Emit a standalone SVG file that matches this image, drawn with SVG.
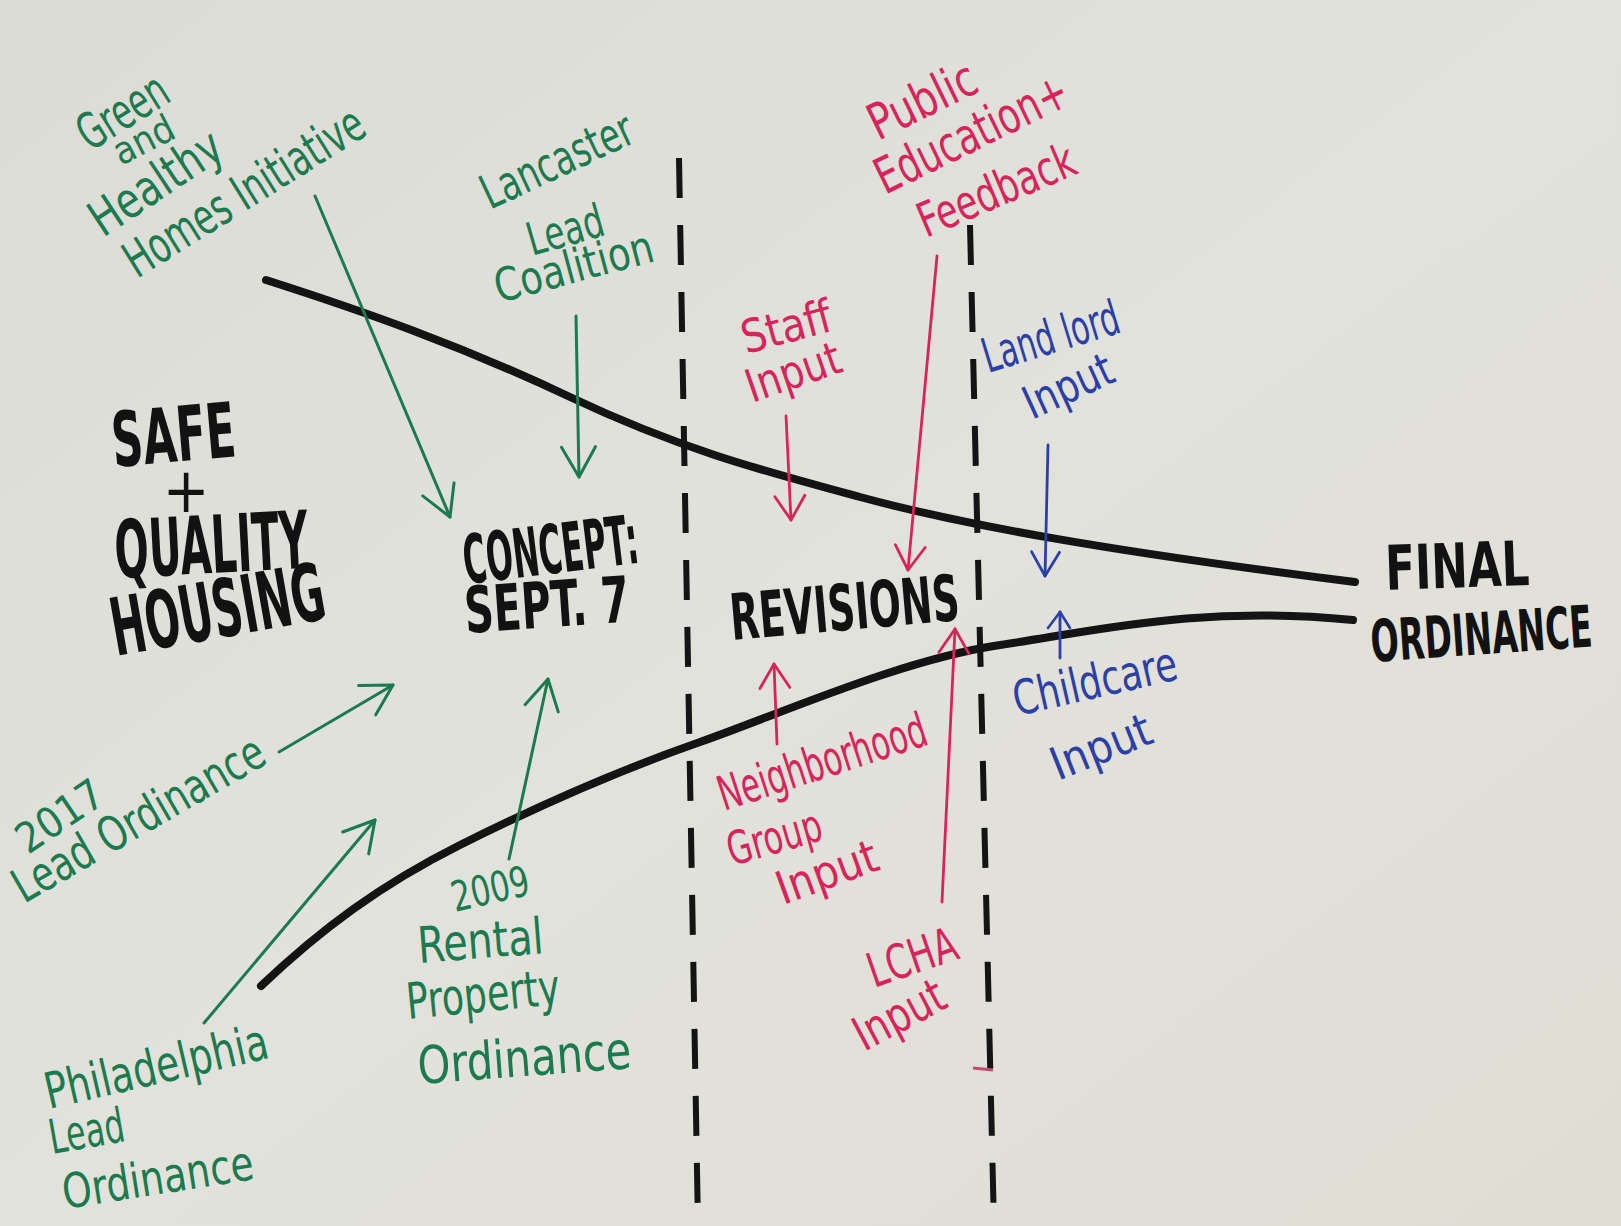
<svg xmlns="http://www.w3.org/2000/svg" width="1621" height="1226" viewBox="0 0 1621 1226">
<style>
.hand{font-family:"Liberation Sans Narrow","DejaVu Sans Condensed","Liberation Sans",sans-serif;font-weight:normal}
.g{fill:#1b7a4e}
.r{fill:#d8245a}
.b{fill:#2b3fa6}
.cap{font-family:"Liberation Sans Narrow","DejaVu Sans Condensed","Liberation Sans",sans-serif;font-weight:bold;fill:#121212}
.curve{fill:none;stroke:#141414;stroke-width:8;stroke-linecap:round}
.dash{fill:none;stroke:#141414;stroke-width:6;stroke-dasharray:40 27}
.ag{fill:none;stroke:#1b7a4e;stroke-width:3;stroke-linecap:round}
.ar{fill:none;stroke:#d8245a;stroke-width:2.8;stroke-linecap:round}
.ab{fill:none;stroke:#2b3fa6;stroke-width:2.8;stroke-linecap:round}
</style>
<defs>
<linearGradient id="paper" x1="0" y1="0" x2="1" y2="1">
<stop offset="0" stop-color="#dcdcd7"/>
<stop offset="0.5" stop-color="#e2e2dc"/>
<stop offset="1" stop-color="#dfded5"/>
</linearGradient>
<marker id="hg" markerUnits="userSpaceOnUse" viewBox="-36 -22 40 44" refX="0" refY="0" markerWidth="40" markerHeight="44" orient="auto" overflow="visible">
<path d="M-30,-17 L0,0 L-30,17" fill="none" stroke="#1b7a4e" stroke-width="3" stroke-linecap="round" stroke-linejoin="round"/>
</marker>
<marker id="hr" markerUnits="userSpaceOnUse" viewBox="-30 -20 34 40" refX="0" refY="0" markerWidth="34" markerHeight="40" orient="auto" overflow="visible">
<path d="M-24,-15 L0,0 L-24,15" fill="none" stroke="#d8245a" stroke-width="2.8" stroke-linecap="round" stroke-linejoin="round"/>
</marker>
<marker id="hb" markerUnits="userSpaceOnUse" viewBox="-30 -20 34 40" refX="0" refY="0" markerWidth="34" markerHeight="40" orient="auto" overflow="visible">
<path d="M-24,-14 L0,0 L-24,14" fill="none" stroke="#2b3fa6" stroke-width="2.8" stroke-linecap="round" stroke-linejoin="round"/>
</marker>
<marker id="hbs" markerUnits="userSpaceOnUse" viewBox="-20 -14 24 28" refX="0" refY="0" markerWidth="24" markerHeight="28" orient="auto" overflow="visible">
<path d="M-16,-12 L0,0 L-16,10" fill="none" stroke="#2b3fa6" stroke-width="2.6" stroke-linecap="round" stroke-linejoin="round"/>
</marker>
</defs>
<rect x="0" y="0" width="1621" height="1226" fill="url(#paper)"/>

<g id="frame">
<path class="curve" d="M266,280 C360,310 460,345 570,397 S760,470 860,497 S1100,550 1355,582"/>
<path class="curve" d="M261,986 C320,930 380,885 460,845 S620,770 700,742 S900,660 1000,645 S1200,605 1353,620"/>
<path class="dash" d="M679,158 L698,1226"/>
<path class="dash" d="M970,225 L994,1226"/>
<path d="M973,1068 L993,1070" stroke="#c04a70" stroke-width="3" fill="none"/>
</g>

<g id="connectors">
<path class="ag" d="M315,196 L450,517" marker-end="url(#hg)"/>
<path class="ag" d="M576,316 L579,477" marker-end="url(#hg)"/>
<path class="ag" d="M279,752 Q330,722 393,685" marker-end="url(#hg)"/>
<path class="ag" d="M204,1023 L375,820" marker-end="url(#hg)"/>
<path class="ag" d="M509,859 L548,679" marker-end="url(#hg)"/>
<path class="ar" d="M786,416 L791,520" marker-end="url(#hr)"/>
<path class="ar" d="M937,256 L908,570" marker-end="url(#hr)"/>
<path class="ar" d="M777,744 L774,664" marker-end="url(#hr)"/>
<path class="ar" d="M942,902 L955,629" marker-end="url(#hr)"/>
<path class="ab" d="M1048,445 L1045,576" marker-end="url(#hb)"/>
<path class="ab" d="M1060,658 L1060,612" marker-end="url(#hbs)"/>
</g>

<g id="safe-quality-housing" class="cap">
<text transform="translate(114,467) rotate(-5)" font-size="76" textLength="124" lengthAdjust="spacingAndGlyphs">SAFE</text>
<text x="186" y="512" font-size="62" text-anchor="middle" font-weight="normal">+</text>
<text transform="translate(116,578) rotate(-3)" font-size="80" textLength="194" lengthAdjust="spacingAndGlyphs">QUALITY</text>
<text transform="translate(116,656) rotate(-10)" font-size="80" textLength="216" lengthAdjust="spacingAndGlyphs">HOUSING</text>
</g>

<g id="concept" class="cap">
<text transform="translate(466,584) rotate(-7)" font-size="68" textLength="176" lengthAdjust="spacingAndGlyphs">CONCEPT:</text>
<text transform="translate(466,633) rotate(-4)" font-size="64" textLength="165" lengthAdjust="spacingAndGlyphs">SEPT. 7</text>
</g>

<g id="revisions" class="cap">
<text transform="translate(732,640) rotate(-5)" font-size="64" textLength="230" lengthAdjust="spacingAndGlyphs">REVISIONS</text>
</g>

<g id="final-ordinance" class="cap">
<text transform="translate(1386,590) rotate(-2)" font-size="62" textLength="144" lengthAdjust="spacingAndGlyphs">FINAL</text>
<text transform="translate(1372,662) rotate(-4) scale(1,1.45)" font-size="40" textLength="222" lengthAdjust="spacingAndGlyphs">ORDINANCE</text>
</g>

<g id="green-healthy-homes" class="hand g">
<text transform="translate(90,152) rotate(-32)" font-size="50" textLength="98" lengthAdjust="spacingAndGlyphs">Green</text>
<text transform="translate(121,166) rotate(-27)" font-size="38" textLength="64" lengthAdjust="spacingAndGlyphs">and</text>
<text transform="translate(103,238) rotate(-33.5)" font-size="50" textLength="149" lengthAdjust="spacingAndGlyphs">Healthy</text>
<text transform="translate(137,279) rotate(-32)" font-size="50" textLength="274" lengthAdjust="spacingAndGlyphs">Homes Initiative</text>
</g>

<g id="lancaster-lead-coalition" class="hand g">
<text transform="translate(490,210) rotate(-25)" font-size="48" textLength="163" lengthAdjust="spacingAndGlyphs">Lancaster</text>
<text transform="translate(532,256) rotate(-16)" font-size="46" textLength="78" lengthAdjust="spacingAndGlyphs">Lead</text>
<text transform="translate(499,303) rotate(-15)" font-size="46" textLength="163" lengthAdjust="spacingAndGlyphs">Coalition</text>
</g>

<g id="lead-ordinance-2017" class="hand g">
<text transform="translate(28,855) rotate(-34)" font-size="42" textLength="96" lengthAdjust="spacingAndGlyphs">2017</text>
<text transform="translate(24,904) rotate(-30)" font-size="48" textLength="283" lengthAdjust="spacingAndGlyphs">Lead Ordinance</text>
</g>

<g id="philadelphia-lead-ordinance" class="hand g">
<text transform="translate(49,1109) rotate(-13)" font-size="50" textLength="228" lengthAdjust="spacingAndGlyphs">Philadelphia</text>
<text transform="translate(52,1154) rotate(-10)" font-size="48" textLength="76" lengthAdjust="spacingAndGlyphs">Lead</text>
<text transform="translate(65,1209) rotate(-9)" font-size="48" textLength="193" lengthAdjust="spacingAndGlyphs">Ordinance</text>
</g>

<g id="rental-property-ordinance-2009" class="hand g">
<text transform="translate(455,912) rotate(-13)" font-size="42" textLength="79" lengthAdjust="spacingAndGlyphs">2009</text>
<text transform="translate(419,963) rotate(-4.5)" font-size="50" textLength="126" lengthAdjust="spacingAndGlyphs">Rental</text>
<text transform="translate(408,1019) rotate(-5.6)" font-size="50" textLength="154" lengthAdjust="spacingAndGlyphs">Property</text>
<text transform="translate(419,1084) rotate(-4.3)" font-size="52" textLength="214" lengthAdjust="spacingAndGlyphs">Ordinance</text>
</g>

<g id="public-education-feedback" class="hand r">
<text transform="translate(878,141) rotate(-26)" font-size="50" textLength="115" lengthAdjust="spacingAndGlyphs">Public</text>
<text transform="translate(885,195) rotate(-26)" font-size="50" textLength="209" lengthAdjust="spacingAndGlyphs">Education+</text>
<text transform="translate(926,238) rotate(-23)" font-size="48" textLength="167" lengthAdjust="spacingAndGlyphs">Feedback</text>
</g>

<g id="staff-input" class="hand r">
<text transform="translate(746,354) rotate(-15)" font-size="46" textLength="92" lengthAdjust="spacingAndGlyphs">Staff</text>
<text transform="translate(752,403) rotate(-19)" font-size="46" textLength="98" lengthAdjust="spacingAndGlyphs">Input</text>
</g>

<g id="neighborhood-group-input" class="hand r">
<text transform="translate(724,811) rotate(-18)" font-size="48" textLength="217" lengthAdjust="spacingAndGlyphs">Neighborhood</text>
<text transform="translate(732,866) rotate(-16)" font-size="46" textLength="97" lengthAdjust="spacingAndGlyphs">Group</text>
<text transform="translate(783,905) rotate(-20)" font-size="46" textLength="105" lengthAdjust="spacingAndGlyphs">Input</text>
</g>

<g id="lcha-input" class="hand r">
<text transform="translate(874,988) rotate(-19)" font-size="48" textLength="92" lengthAdjust="spacingAndGlyphs">LCHA</text>
<text transform="translate(864,1052) rotate(-28)" font-size="48" textLength="97" lengthAdjust="spacingAndGlyphs">Input</text>
</g>

<g id="landlord-input" class="hand b">
<text transform="translate(988,373) rotate(-17)" font-size="48" textLength="141" lengthAdjust="spacingAndGlyphs">Land lord</text>
<text transform="translate(1032,420) rotate(-24.6)" font-size="46" textLength="94" lengthAdjust="spacingAndGlyphs">Input</text>
</g>

<g id="childcare-input" class="hand b">
<text transform="translate(1017,716) rotate(-12.8)" font-size="48" textLength="167" lengthAdjust="spacingAndGlyphs">Childcare</text>
<text transform="translate(1058,781) rotate(-21.7)" font-size="46" textLength="105" lengthAdjust="spacingAndGlyphs">Input</text>
</g>
</svg>
